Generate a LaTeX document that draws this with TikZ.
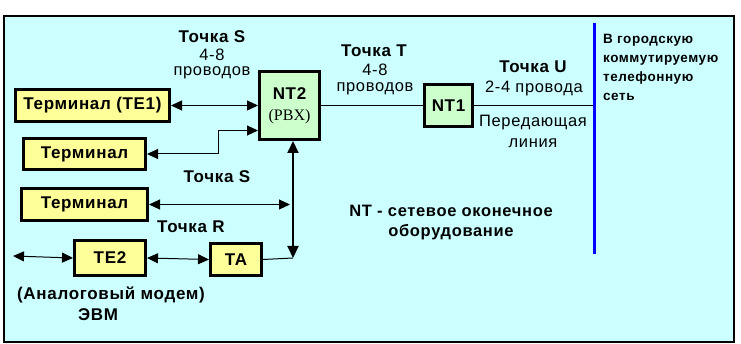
\documentclass[tikz,border=0pt]{standalone}
\usepackage{fontspec}
\setmainfont{Liberation Sans}[LetterSpace=4]
\newfontfamily\pbxfont{Liberation Serif}
\usetikzlibrary{arrows.meta}

\definecolor{bgcyan}{HTML}{CCFFFF}
\definecolor{boxyellow}{HTML}{FFFF99}
\definecolor{boxgreen}{HTML}{CCFFCC}

\begin{document}
\begin{tikzpicture}[x=1pt,y=-1pt,
  termbox/.style={draw=black,line width=3pt,fill=boxyellow,inner sep=0pt,
    font=\fontsize{17}{17}\selectfont\bfseries},
  ntbox/.style={draw=black,line width=3pt,fill=boxgreen,inner sep=0pt,
    font=\fontsize{17}{17}\selectfont\bfseries},
  pointlbl/.style={inner sep=0pt,font=\fontsize{17}{17}\selectfont\bfseries},
  wirelbl/.style={inner sep=0pt,font=\fontsize{16.5}{16.5}\selectfont},
  dbl/.style={{Triangle[length=11pt,width=10pt]}-{Triangle[length=11pt,width=10pt]},line width=1pt},
  thin/.style={line width=1pt}]
\useasboundingbox (0,0) rectangle (741,344);
\fill[white] (0,0) rectangle (741,344);
\draw[fill=bgcyan,line width=1.5pt] (4,16) rectangle (734,342);

% boxes
\node[termbox,minimum width=154pt,minimum height=32pt] (te1) at (92.5,105.5) {Терминал (TE1)};
\node[termbox,minimum width=122pt,minimum height=31pt] (term2) at (84.5,154) {Терминал};
\node[termbox,minimum width=126pt,minimum height=32pt] (term3) at (84.5,204.5) {Терминал};
\node[termbox,minimum width=71pt,minimum height=35pt] (te2) at (110,258) {TE2};
\node[termbox,minimum width=51pt,minimum height=32pt] (ta) at (236,259.5) {TA};
\node[ntbox,minimum width=60pt,minimum height=68pt,align=center] (nt2) at (289.5,105.5)
  {NT2\\[4pt]{\pbxfont\mdseries\fontsize{16}{16}\selectfont (PBX)}};
\node[ntbox,minimum width=48pt,minimum height=42pt] (nt1) at (448.5,105.5) {NT1};

% coordinates
\coordinate (bus) at (293,258);
\coordinate (ext) at (13,256);
\coordinate (pstnA) at (594,23);
\coordinate (pstnB) at (594,254);

% connectors
\draw[dbl] (te1.east) -- (te1.east -| nt2.west);
\draw[dbl] (term2.east) -- ++(71,0) |- ([yshift=-25pt]nt2.west);
\draw[dbl] (term3.east) -- ([xshift=-3pt]term3.east -| bus);
\draw[dbl] (ext) -- (te2.west);
\draw[dbl] (te2.east) -- (ta.west);
\draw[thin] (ta.east) -- (bus);
\draw[{Triangle[length=12pt,width=11pt]}-{Triangle[length=12pt,width=11pt]},line width=2pt]
  (bus |- nt2.south) -- (bus);
\draw[thin] (nt2.east) -- (nt1.west);
\draw[thin] (nt1.east) -- (nt1.east -| pstnA);
\draw[blue,line width=3pt] (pstnA) -- (pstnB);

% labels
\node[pointlbl] (ptS) at (212,37) {Точка S};
\node[wirelbl] (wS1) at (212,55) {4-8};
\node[wirelbl] (wS2) at (212,73) {проводов};
\node[pointlbl] (ptT) at (374,51) {Точка T};
\node[wirelbl] (wT1) at (375,70) {4-8};
\node[wirelbl] (wT2) at (375,89) {проводов};
\node[pointlbl] (ptU) at (533,67) {Точка U};
\node[wirelbl] (wU1) at (534,88) {2-4 провода};
\node[wirelbl] (line1) at (533,123) {Передающая};
\node[wirelbl] (line2) at (533,143) {линия};
\node[anchor=north west,inner sep=0pt,align=left,
  font=\fontsize{13.5}{19}\selectfont\bfseries] (pstn) at (603,34)
  {В городскую\\коммутируемую\\телефонную\\сеть};
\node[pointlbl] (ptS2) at (217,177) {Точка S};
\node[pointlbl] (ptR) at (191,227) {Точка R};
\node[pointlbl] (modem) at (111,295) {(Аналоговый модем)};
\node[pointlbl] (evm) at (98,315) {ЭВМ};
\node[pointlbl,align=center,font=\fontsize{16.5}{20}\selectfont\bfseries] (ntnote) at (451,223)
  {NT - сетевое оконечное\\оборудование};
\end{tikzpicture}
\end{document}
